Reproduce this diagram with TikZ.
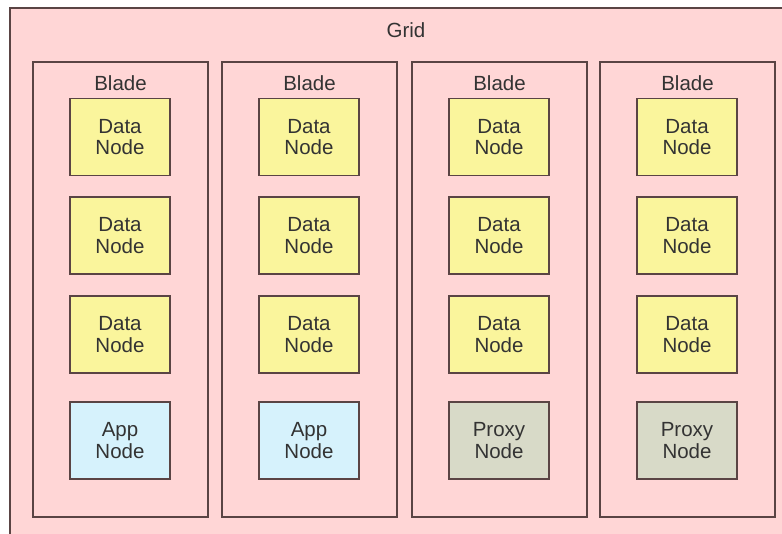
\documentclass[tikz,border=0pt]{standalone}
\usepackage{fontspec}
\setmainfont{Liberation Sans}
\definecolor{gridfill}{HTML}{FFD6D6}
\definecolor{edge}{HTML}{5A4444}
\definecolor{datafill}{HTML}{FAF59C}
\definecolor{appfill}{HTML}{D6F2FC}
\definecolor{proxyfill}{HTML}{D8DAC8}
\definecolor{ink}{HTML}{333333}
\tikzset{
  box/.style={draw=edge, line width=1.8pt, minimum width=100pt, minimum height=77pt,
    align=center, text=ink, inner sep=0pt,
    font=\fontsize{20.5}{21.5}\selectfont},
  datanode/.style={box, fill=datafill},
  appnode/.style={box, fill=appfill},
  proxynode/.style={box, fill=proxyfill},
  blade/.style={draw=edge, line width=1.8pt, fill=gridfill, rectangle, inner sep=0pt},
  caption/.style={text=ink, font=\fontsize{20.5}{21.5}\selectfont, inner sep=0pt}
}
\begin{document}
\begin{tikzpicture}[x=1pt, y=-1pt]
  \useasboundingbox (0,0) rectangle (782,534);
  \fill[white] (0,0) rectangle (782,534);
  % the grid: only its top and left edges fall inside the page
  \begin{scope}
    \clip (0,0) rectangle (782,534);
    \draw[draw=edge, line width=1.8pt, fill=gridfill] (10,8) rectangle (800,560);
  \end{scope}
  \node[caption] (grid) at (406,30) {Grid};
  % four blades
  \foreach \i/\bx/\kind/\lbl in {1/33/appnode/App, 2/222/appnode/App, 3/412/proxynode/Proxy, 4/600/proxynode/Proxy}{
    \draw[blade] (\bx,62) rectangle ++(175,455);
    \node[caption] (bl\i) at ({\bx+87.5},83) {Blade};
    \node[datanode] (d\i a) at ({\bx+87},137) {Data\\Node};
    \node[datanode] (d\i b) at ({\bx+87},235.5) {Data\\Node};
    \node[datanode] (d\i c) at ({\bx+87},334.5) {Data\\Node};
    \node[\kind] (s\i) at ({\bx+87},440.5) {\lbl\\Node};
  }
\end{tikzpicture}
\end{document}
